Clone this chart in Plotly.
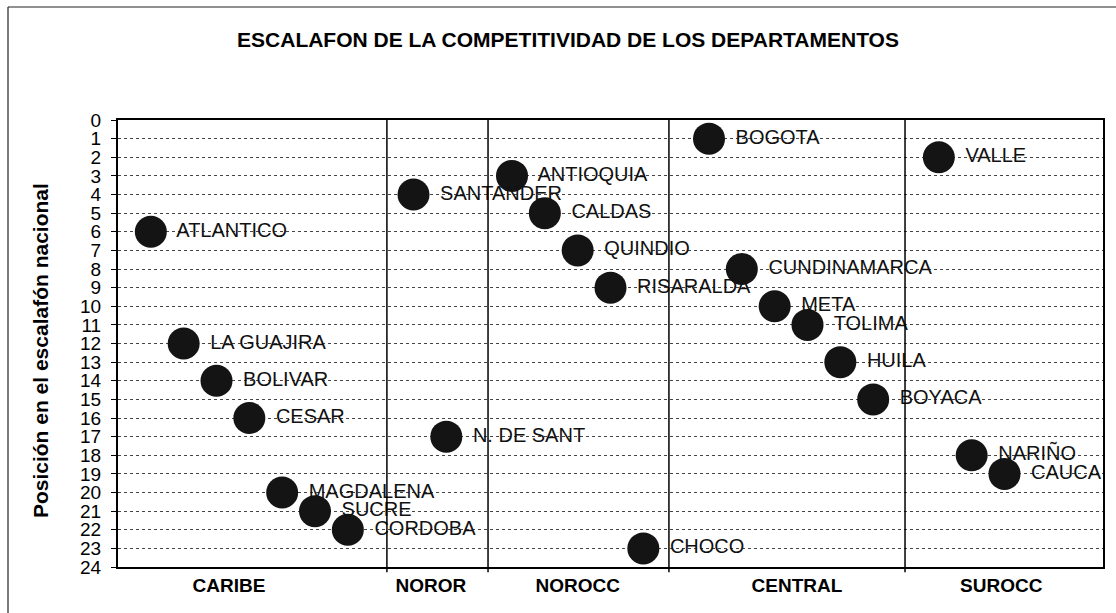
import plotly.graph_objects as go

# departamentos, posicion en el eje x (orden dentro de cada region) y puesto
deptos = ["ATLANTICO", "LA GUAJIRA", "BOLIVAR", "CESAR", "MAGDALENA", "SUCRE", "CORDOBA",
          "SANTANDER", "N. DE SANT",
          "ANTIOQUIA", "CALDAS", "QUINDIO", "RISARALDA", "CHOCO",
          "BOGOTA", "CUNDINAMARCA", "META", "TOLIMA", "HUILA", "BOYACA",
          "VALLE", "NARIÑO", "CAUCA"]
orden = [1, 2, 3, 4, 5, 6, 7,
         9, 10,
         12, 13, 14, 15, 16,
         18, 19, 20, 21, 22, 23,
         25, 26, 27]
puesto = [6, 12, 14, 16, 20, 21, 22,
          4, 17,
          3, 5, 7, 9, 23,
          1, 8, 10, 11, 13, 15,
          2, 18, 19]

regiones = ["CARIBE", "NOROR", "NOROCC", "CENTRAL", "SUROCC"]
pos_regiones = [3.38, 9.53, 14.0, 20.68, 26.9]
separadores = [8.19, 11.27, 16.78, 23.97]

W, H = 1116, 613
L, R, T, B = 118, 13, 120, 46
FONT = "Liberation Sans, Arial"

fig = go.Figure()

fig.add_trace(go.Scatter(
    x=orden, y=puesto, text=[" " + d for d in deptos],
    mode="markers+text", textposition="middle right",
    marker=dict(size=32, color="#141414", line=dict(width=0)),
    textfont=dict(family=FONT, size=20, color="#111111"),
    cliponaxis=False, showlegend=False,
))

# lineas que separan las regiones
for s in separadores:
    fig.add_shape(type="line", xref="x", yref="paper", x0=s, x1=s, y0=-0.012, y1=1,
                  line=dict(color="black", width=1.5))

# marco exterior (solo se ven arriba y a la izquierda)
px_x = lambda p: (p - L) / (W - L - R)
px_y = lambda p: (H - B - p) / (H - T - B)
fig.add_shape(type="line", xref="paper", yref="paper", x0=px_x(8), x1=px_x(1116), y0=px_y(7), y1=px_y(7),
              line=dict(color="#222", width=1.2))
fig.add_shape(type="line", xref="paper", yref="paper", x0=px_x(8), x1=px_x(8), y0=px_y(7), y1=px_y(613),
              line=dict(color="#222", width=1.2))

fig.add_annotation(text="<b>Posición en el escalafón nacional</b>", textangle=-90,
                   xref="paper", yref="paper", x=px_x(40), y=0.483, showarrow=False,
                   xanchor="center", yanchor="middle",
                   font=dict(family=FONT, size=21, color="black"))

fig.update_layout(
    width=W, height=H,
    margin=dict(l=L, r=R, t=T, b=B),
    paper_bgcolor="white", plot_bgcolor="white",
    title=dict(text="<b>ESCALAFON DE LA COMPETITIVIDAD DE LOS DEPARTAMENTOS</b>",
               x=568 / W, xanchor="center", y=1 - 40 / H, yanchor="middle",
               font=dict(family=FONT, size=21, color="black")),
    xaxis=dict(range=[0, 30], showgrid=False, zeroline=False,
               tickmode="array", tickvals=pos_regiones, ticktext=["<b>" + r + "</b>" for r in regiones],
               ticks="", tickfont=dict(family=FONT, size=19, color="black"),
               showline=True, mirror=True, linecolor="black", linewidth=2),
    yaxis=dict(range=[24, 0], tickmode="linear", tick0=0, dtick=1,
               showgrid=True, griddash="dot", gridcolor="#444", gridwidth=1, zeroline=False,
               ticks="outside", ticklen=5, tickcolor="black", ticklabelstandoff=6,
               tickfont=dict(family=FONT, size=19, color="black"),
               showline=True, mirror=True, linecolor="black", linewidth=2),
)

# sin margen del body para que la figura quede en (0, 0)
fig.write_html("out.html", config={"displayModeBar": False},
               post_script="document.body.style.margin='0';")
